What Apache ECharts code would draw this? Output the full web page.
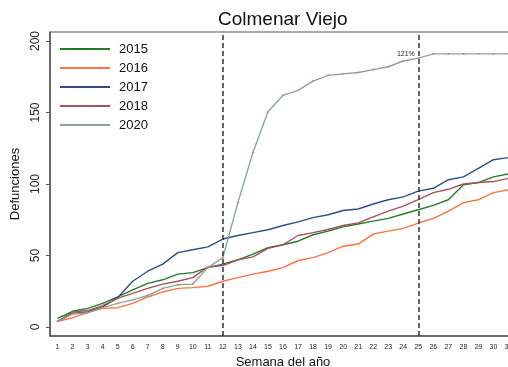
<!DOCTYPE html>
<html><head><meta charset="utf-8">
<script src="https://cdn.jsdelivr.net/npm/echarts@6/dist/echarts.min.js"></script>
<style>html,body{margin:0;padding:0;background:#fff}#c{width:508px;height:367px}</style>
</head><body><div id="c"></div>
<script>
const weeks = ['1','2','3','4','5','6','7','8','9','10','11','12','13','14','15','16','17','18','19','20','21','22','23','24','25','26','27','28','29','30','31'];
const v2015 = [6,11,13,16.5,21,26,30.5,33,37,38,41.5,44,47,51,55.5,57.5,60,64.5,67,70,72,74,76,79,82,85,89,99.5,101,105,107];
const v2016 = [4,6.5,10,13,13.5,16.5,21,24.5,27,27.5,28.5,32,34.5,37,39,41.5,46.5,48.5,52,56.5,58,65,67,69,72.7,76,81,87,89,94,96];
const v2017 = [4,9.5,10.5,14,20.5,32,39,44,52,54,56,61.5,64,66,68,71,73.5,76.5,78.5,81.5,82.5,86,89,91,95,97,103,105,111,117,118.5];
const v2018 = [4,10.5,11.5,15,20,23.5,27,30,32,34.5,42,43,47,49,55,57.5,64,66,68.2,71,72.8,77,81,84.5,89,94,96.3,100,101,101.7,104];
const v2020 = [4,9,10,13.5,16.5,19,22,27,29.5,30,41.5,48.5,87,122,150.5,162,165.5,172,176,177,178,180,182,186,188,191,191,191,191,191,191];
const yTicks = [0,50,100,150,200];
const markWeeks = ['12','25'];
const noteWeek = '25';
const noteText = '121%';

const FONT = 'Liberation Sans, Arial, sans-serif';
const chart = echarts.init(document.getElementById('c'), null, {renderer:'canvas'});
const lineSeries = (name, data, color) => ({
  name, type:'line', data, showSymbol:false, symbol:'none', smooth:false,
  lineStyle:{color, width:1.4}, itemStyle:{color}, z:2
});
const s2015 = lineSeries('2015', v2015, '#267a2c');
s2015.markLine = {
  silent:true, symbol:['none','none'], label:{show:false},
  lineStyle:{color:'#333', type:[5,3], width:1.5},
  data: markWeeks.map(w => ({xAxis:w}))
};
const s2020 = {
  name:'2020', type:'line', data:v2020, showSymbol:true, symbol:'circle', symbolSize:2,
  lineStyle:{color:'#8aa59c', width:1.4}, itemStyle:{color:'#d58a5e', borderWidth:0}, z:3,
  markPoint:{
    symbol:'circle', symbolSize:1, itemStyle:{color:'rgba(0,0,0,0)'},
    label:{show:true, formatter:noteText, position:'left', distance:3, offset:[0,-4], fontSize:7, color:'#222', fontFamily:FONT},
    data:[{coord:[noteWeek, v2020[weeks.indexOf(noteWeek)]]}]
  }
};
chart.setOption({
  animation:false,
  backgroundColor:'#fff',
  title:{text:'Colmenar Viejo', left:218, top:10, padding:0,
    textStyle:{fontSize:19, fontWeight:'normal', color:'#111', fontFamily:FONT}},
  legend:{
    orient:'vertical', left:60, top:42, padding:0, itemGap:5, itemWidth:50, itemHeight:2, icon:'rect',
    textStyle:{fontSize:13, color:'#111', fontFamily:FONT, lineHeight:14, padding:[0,0,0,4]},
    data:[
      {name:'2015', itemStyle:{color:'#267a2c'}},
      {name:'2016', itemStyle:{color:'#ff7244'}},
      {name:'2017', itemStyle:{color:'#2f4f82'}},
      {name:'2018', itemStyle:{color:'#a3525f'}},
      {name:'2020', itemStyle:{color:'#8aa59c'}}
    ]
  },
  grid:{left:50, width:466, top:32, bottom:31, show:true, borderColor:'#555', borderWidth:1,
    containLabel:false, outerBoundsMode:'none'},
  xAxis:{
    type:'category', data:weeks, boundaryGap:true,
    axisLine:{onZero:false, lineStyle:{color:'#555', width:1.5}},
    axisTick:{alignWithLabel:true, length:4, lineStyle:{color:'#555'}},
    axisLabel:{fontSize:7, margin:8, interval:0, color:'#222', fontFamily:FONT},
    name:'Semana del año', nameLocation:'middle', nameGap:14,
    nameTextStyle:{fontSize:13, color:'#111', fontFamily:FONT},
    splitLine:{show:false}
  },
  yAxis:{
    type:'value', min:-6.3, max:206.3,
    axisLine:{show:true, lineStyle:{color:'#555', width:1.5}},
    axisTick:{show:true, length:4, customValues:yTicks, lineStyle:{color:'#555'}},
    axisLabel:{rotate:90, fontSize:12, margin:8, color:'#222', fontFamily:FONT, customValues:yTicks},
    splitLine:{show:false},
    name:'Defunciones', nameLocation:'middle', nameGap:21,
    nameTextStyle:{fontSize:13, color:'#111', fontFamily:FONT}
  },
  series:[
    s2015,
    lineSeries('2016', v2016, '#ff7244'),
    lineSeries('2017', v2017, '#2f4f82'),
    lineSeries('2018', v2018, '#a3525f'),
    s2020
  ]
});
</script>
</body></html>
